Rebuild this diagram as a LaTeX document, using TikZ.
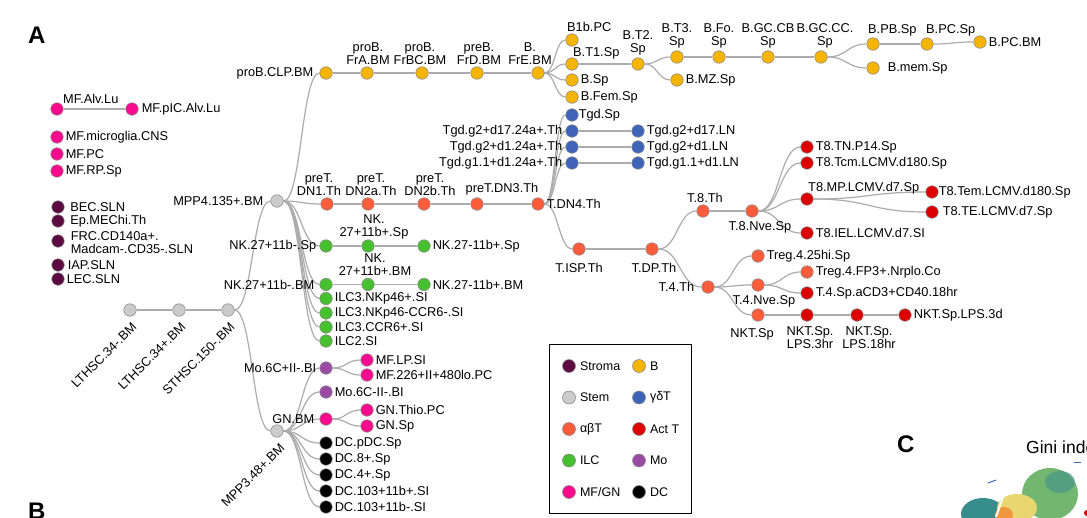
\documentclass[tikz,border=0pt]{standalone}
\usepackage{fontspec}
\setmainfont{Liberation Sans}
\usetikzlibrary{calc,backgrounds}
\definecolor{cStroma}{RGB}{92,10,64}
\definecolor{cB}{RGB}{245,180,0}
\definecolor{cStem}{RGB}{203,203,203}
\definecolor{cGD}{RGB}{62,100,186}
\definecolor{cAB}{RGB}{255,92,60}
\definecolor{cAct}{RGB}{220,0,0}
\definecolor{cILC}{RGB}{70,192,46}
\definecolor{cMo}{RGB}{155,74,164}
\definecolor{cMF}{RGB}{250,10,140}
\definecolor{cDC}{RGB}{0,0,0}
\definecolor{cEdge}{RGB}{172,172,172}
\definecolor{cRim}{RGB}{140,140,140}
\definecolor{sTeal}{RGB}{55,140,140}
\definecolor{sGreen}{RGB}{115,182,112}
\definecolor{sTeal2}{RGB}{70,150,135}
\definecolor{sYel}{RGB}{232,214,112}
\definecolor{sOr}{RGB}{240,150,60}
\newcommand\lbf{\fontsize{12.8}{13}\selectfont}
\newcommand\lgf{\fontsize{12.5}{13}\selectfont}
\newcommand\pnf{\fontsize{24}{24}\selectfont\bfseries}
\newcommand\lnkc[2]{\draw[edge] let \p1=(#1.center), \p2=(#2.center) in (#1) .. controls ({(\x1+\x2)/2},\y1) and ({(\x1+\x2)/2},\y2) .. (#2);}
\tikzset{
  nd/.style={circle, draw=cRim, line width=0.6pt, minimum size=12.5pt, inner sep=0pt, fill=#1},
  lb/.style={font=\lbf, inner sep=1pt, align=center},
  lg/.style={font=\lgf, inner sep=1pt},
  edge/.style={draw=cEdge, line width=1.2pt},
}
\begin{document}
\begin{tikzpicture}[x=1pt,y=-1pt,label distance=1pt]
\clip (0,0) rectangle (1087,517);
% ---------- left column ----------
\node[nd=cMF, label={[lb,anchor=south west,xshift=5pt,yshift=-3.5pt]north:MF.Alv.Lu}] (MFAlv) at (57,109) {};
\node[nd=cMF, label={[lb,xshift=1pt]right:MF.pIC.Alv.Lu}] (MFpIC) at (132,109) {};
\node[nd=cMF, label={[lb]right:MF.microglia.CNS}] (MFmic) at (57,137) {};
\node[nd=cMF, label={[lb]right:MF.PC}] (MFPC) at (57,154) {};
\node[nd=cMF, label={[lb]right:MF.RP.Sp}] (MFRP) at (57,171) {};
\node[nd=cStroma, label={[lb,xshift=3.5pt]right:BEC.SLN}] (BEC) at (58,207) {};
\node[nd=cStroma, label={[lb,xshift=3.5pt]right:Ep.MEChi.Th}] (EpME) at (58,221) {};
\node[nd=cStroma, label={[lb,align=left,xshift=4pt,yshift=-1.5pt]right:{FRC.CD140a+.\\Madcam-.CD35-.SLN}}] (FRC) at (58,241) {};
\node[nd=cStroma, label={[lb,xshift=1pt]right:IAP.SLN}] (IAP) at (58,265) {};
\node[nd=cStroma, label={[lb]right:LEC.SLN}] (LEC) at (58,279) {};
% ---------- stem ----------
\node[nd=cStem] (LTm) at (130,310) {};
\node[nd=cStem] (LTp) at (179,310) {};
\node[nd=cStem] (STH) at (228,310) {};
\node[lb,rotate=45,anchor=north east] (LTmL) at ([shift={(1,10)}]LTm.center) {LTHSC.34-.BM};
\node[lb,rotate=45,anchor=north east] (LTpL) at ([shift={(1,10)}]LTp.center) {LTHSC.34+.BM};
\node[lb,rotate=45,anchor=north east] (STHL) at ([shift={(1,10)}]STH.center) {STHSC.150-.BM};
\node[nd=cStem, label={[lb,xshift=-5pt]left:MPP4.135+.BM}] (MPP4) at (277,201) {};
\node[nd=cStem] (MPP3) at (277,431) {};
\node[lb,rotate=45,anchor=north east] (MPP3L) at ([shift={(2,10)}]MPP3.center) {MPP3.48+.BM};
% ---------- B lineage ----------
\node[nd=cB, label={[lb,xshift=-4pt]left:proB.CLP.BM}] (CLP) at (326,73) {};
\node[nd=cB, label={[lb,xshift=1pt]above:{proB.\\FrA.BM}}] (FrA) at (367,73) {};
\node[nd=cB, label={[lb,xshift=-2pt]above:{proB.\\FrBC.BM}}] (FrBC) at (422,73) {};
\node[nd=cB, label={[lb,xshift=2pt]above:{preB.\\FrD.BM}}] (FrD) at (477,73) {};
\node[nd=cB, label={[lb,xshift=-8pt]above:{B.\\FrE.BM}}] (FrE) at (538,73) {};
\node[nd=cB, label={[lb,anchor=south west,xshift=-6pt]north:B1b.PC}] (B1b) at (572,40) {};
\node[nd=cB, label={[lb,anchor=south west,yshift=-4pt]north:B.T1.Sp}] (BT1) at (572,64) {};
\node[nd=cB, label={[lb]right:B.Sp}] (BSp) at (572,80) {};
\node[nd=cB, label={[lb]right:B.Fem.Sp}] (BFem) at (572,97) {};
\node[nd=cB, label={[lb]above:{B.T2.\\Sp}}] (BT2) at (638,64) {};
\node[nd=cB, label={[lb]above:{B.T3.\\Sp}}] (BT3) at (677,57) {};
\node[nd=cB, label={[lb]right:B.MZ.Sp}] (BMZ) at (677,80) {};
\node[nd=cB, label={[lb]above:{B.Fo.\\Sp}}] (BFo) at (719,57) {};
\node[nd=cB, label={[lb]above:{B.GC.CB\\Sp}}] (BGCB) at (768,57) {};
\node[nd=cB, label={[lb,xshift=4pt]above:{B.GC.CC.\\Sp}}] (BGCC) at (821,57) {};
\node[nd=cB, label={[lb,anchor=south west,xshift=-6pt,yshift=-1pt]north:B.PB.Sp}] (BPB) at (873,44) {};
\node[nd=cB, label={[lb,anchor=south west,xshift=-2pt,yshift=-1pt]north:B.PC.Sp}] (BPCSp) at (927,44) {};
\node[nd=cB, label={[lb]right:B.PC.BM}] (BPCBM) at (980,42) {};
\node[nd=cB, label={[lb,xshift=6pt]right:B.mem.Sp}] (Bmem) at (873,68) {};
% ---------- gamma delta T ----------
\node[nd=cGD, label={[lb,xshift=-2pt]right:Tgd.Sp}] (TgdSp) at (572,115) {};
\node[nd=cGD, label={[lb,xshift=-1pt]left:Tgd.g2+d17.24a+.Th}] (Tg17) at (572,131) {};
\node[nd=cGD, label={[lb,xshift=-1pt]left:Tgd.g2+d1.24a+.Th}] (Tg1) at (572,147) {};
\node[nd=cGD, label={[lb,xshift=-1pt]left:Tgd.g1.1+d1.24a+.Th}] (Tg11) at (572,163) {};
\node[nd=cGD, label={[lb]right:Tgd.g2+d17.LN}] (Tg17LN) at (638,131) {};
\node[nd=cGD, label={[lb]right:Tgd.g2+d1.LN}] (Tg1LN) at (638,147) {};
\node[nd=cGD, label={[lb]right:Tgd.g1.1+d1.LN}] (Tg11LN) at (638,163) {};
% ---------- alpha beta T ----------
\node[nd=cAB, label={[lb,xshift=-8pt]above:{preT.\\DN1.Th}}] (DN1) at (327,204) {};
\node[nd=cAB, label={[lb,xshift=3pt]above:{preT.\\DN2a.Th}}] (DN2a) at (368,204) {};
\node[nd=cAB, label={[lb,xshift=6pt]above:{preT.\\DN2b.Th}}] (DN2b) at (424,204) {};
\node[nd=cAB, label={[lb,xshift=25pt]above:preT.DN3.Th}] (DN3) at (477,204) {};
\node[nd=cAB, label={[lb]right:T.DN4.Th}] (DN4) at (538,204) {};
\node[nd=cAB, label={[lb,yshift=-5pt]below:T.ISP.Th}] (ISP) at (579,249) {};
\node[nd=cAB, label={[lb,xshift=2pt,yshift=-5pt]below:T.DP.Th}] (DP) at (652,249) {};
\node[nd=cAB, label={[lb,xshift=2pt]above:T.8.Th}] (T8Th) at (703,211) {};
\node[nd=cAB, label={[lb,xshift=8pt,yshift=-1.5pt]below:T.8.Nve.Sp}] (T8Nve) at (752,211) {};
\node[nd=cAct, label={[lb]right:T8.TN.P14.Sp}] (T8TN) at (807,147) {};
\node[nd=cAct, label={[lb]right:T8.Tcm.LCMV.d180.Sp}] (T8Tcm) at (807,163) {};
\node[nd=cAct, label={[lb,anchor=south west,yshift=-4pt]north:T8.MP.LCMV.d7.Sp}] (T8MP) at (807,199) {};
\node[nd=cAct, label={[lb,xshift=-2pt]right:T8.Tem.LCMV.d180.Sp}] (T8Tem) at (932,192) {};
\node[nd=cAct, label={[lb,xshift=2pt]right:T8.TE.LCMV.d7.Sp}] (T8TE) at (932,212) {};
\node[nd=cAct, label={[lb]right:T8.IEL.LCMV.d7.SI}] (T8IEL) at (807,233) {};
\node[nd=cAB, label={[lb,xshift=-5pt]left:T.4.Th}] (T4Th) at (708,287) {};
\node[nd=cAB, label={[lb]right:Treg.4.25hi.Sp}] (Treg25) at (758,256) {};
\node[nd=cAB, label={[lb,xshift=6pt,yshift=-1.5pt]below:T.4.Nve.Sp}] (T4Nve) at (758,285) {};
\node[nd=cAB, label={[lb]right:Treg.4.FP3+.Nrplo.Co}] (TregFP) at (807,272) {};
\node[nd=cAct, label={[lb]right:T.4.Sp.aCD3+CD40.18hr}] (T4aCD) at (807,293) {};
\node[nd=cAB, label={[lb,xshift=-6pt,yshift=-4.5pt]below:NKT.Sp}] (NKTSp) at (758,315) {};
\node[nd=cAct, label={[lb,xshift=3pt,yshift=-3pt]below:{NKT.Sp.\\LPS.3hr}}] (NKT3h) at (807,315) {};
\node[nd=cAct, label={[lb,xshift=12pt,yshift=-3pt]below:{NKT.Sp.\\LPS.18hr}}] (NKT18h) at (857,315) {};
\node[nd=cAct, label={[lb]right:NKT.Sp.LPS.3d}] (NKT3d) at (905,315) {};
% ---------- NK / ILC ----------
\node[nd=cILC, label={[lb,xshift=-1pt]left:NK.27+11b-.Sp}] (NKSp) at (326,246) {};
\node[nd=cILC, label={[lb,xshift=6pt,yshift=-2pt]above:{NK.\\27+11b+.Sp}}] (NKpSp) at (368,246) {};
\node[nd=cILC, label={[lb]right:NK.27-11b+.Sp}] (NKmSp) at (424,246) {};
\node[nd=cILC, label={[lb,xshift=-3pt]left:NK.27+11b-.BM}] (NKBM) at (326,284.5) {};
\node[nd=cILC, label={[lb,xshift=7pt]above:{NK.\\27+11b+.BM}}] (NKpBM) at (368,284.5) {};
\node[nd=cILC, label={[lb]right:NK.27-11b+.BM}] (NKmBM) at (424,284.5) {};
\node[nd=cILC, label={[lb]right:ILC3.NKp46+.SI}] (ILCa) at (326,298.5) {};
\node[nd=cILC, label={[lb]right:ILC3.NKp46-CCR6-.SI}] (ILCb) at (326,313) {};
\node[nd=cILC, label={[lb]right:ILC3.CCR6+.SI}] (ILCc) at (326,327) {};
\node[nd=cILC, label={[lb]right:ILC2.SI}] (ILC2) at (326,341) {};
% ---------- myeloid ----------
\node[nd=cMo, label={[lb,xshift=-1pt]left:Mo.6C+II-.BI}] (Mop) at (326,368) {};
\node[nd=cMF, label={[lb]right:MF.LP.SI}] (MFLP) at (367,360) {};
\node[nd=cMF, label={[lb]right:MF.226+II+480lo.PC}] (MF226) at (367,375) {};
\node[nd=cMo, label={[lb]right:Mo.6C-II-.BI}] (Mom) at (326,392) {};
\node[nd=cMF, label={[lb,xshift=-3pt]left:GN.BM}] (GNBM) at (326,419) {};
\node[nd=cMF, label={[lb]right:GN.Thio.PC}] (GNTh) at (367,410) {};
\node[nd=cMF, label={[lb]right:GN.Sp}] (GNSp) at (367,426) {};
\node[nd=cDC, label={[lb]right:DC.pDC.Sp}] (DCp) at (326,443) {};
\node[nd=cDC, label={[lb]right:DC.8+.Sp}] (DC8) at (326,459) {};
\node[nd=cDC, label={[lb]right:DC.4+.Sp}] (DC4) at (326,475) {};
\node[nd=cDC, label={[lb]right:DC.103+11b+.SI}] (DCa) at (326,491) {};
\node[nd=cDC, label={[lb]right:DC.103+11b-.SI}] (DCb) at (326,507) {};
% ---------- edges ----------
\begin{pgfonlayer}{background}
\fill[white] (0,0) rectangle (1087,517);
\foreach \a/\b in {MFAlv/MFpIC, LTm/LTp, LTp/STH, STH/MPP4, STH/MPP3,
  MPP4/CLP, CLP/FrA, FrA/FrBC, FrBC/FrD, FrD/FrE, FrE/B1b, FrE/BT1, FrE/BSp, FrE/BFem,
  BT1/BT2, BT2/BT3, BT2/BMZ, BT3/BFo, BFo/BGCB, BGCB/BGCC, BGCC/BPB, BGCC/Bmem, BPB/BPCSp, BPCSp/BPCBM,
  MPP4/DN1, DN1/DN2a, DN2a/DN2b, DN2b/DN3, DN3/DN4,
  DN4/TgdSp, DN4/Tg17, DN4/Tg1, DN4/Tg11, Tg17/Tg17LN, Tg1/Tg1LN, Tg11/Tg11LN,
  DN4/ISP, ISP/DP, DP/T8Th, DP/T4Th, T8Th/T8Nve, T8Nve/T8TN, T8Nve/T8Tcm, T8Nve/T8MP, T8Nve/T8IEL,
  T8MP/T8Tem, T8MP/T8TE, T4Th/Treg25, T4Th/T4Nve, T4Th/NKTSp, T4Nve/TregFP, T4Nve/T4aCD,
  NKTSp/NKT3h, NKT3h/NKT18h, NKT18h/NKT3d,
  MPP4/NKSp, MPP4/NKBM, MPP4/ILCa, MPP4/ILCb, MPP4/ILCc, MPP4/ILC2,
  NKSp/NKpSp, NKpSp/NKmSp, NKBM/NKpBM, NKpBM/NKmBM,
  MPP3/Mop, MPP3/Mom, MPP3/GNBM, MPP3/DCp, MPP3/DC8, MPP3/DC4, MPP3/DCa, MPP3/DCb,
  Mop/MFLP, Mop/MF226, GNBM/GNTh, GNBM/GNSp}
  {\lnkc{\a}{\b}}
\end{pgfonlayer}
% ---------- legend ----------
\node[draw=black, line width=0.8pt, minimum width=142pt, minimum height=169pt, inner sep=0pt] (legend) at (620,428.5) {};
\tikzset{lgd/.style={nd=#1, minimum size=13pt}}
\node[lgd=cStroma, label={[lg,label distance=3pt]right:Stroma}] (lg1) at (569,366) {};
\node[lgd=cB, label={[lg,label distance=3pt]right:B}] (lg2) at (639,366) {};
\node[lgd=cStem, label={[lg,label distance=3pt]right:Stem}] (lg3) at (569,397.5) {};
\node[lgd=cGD, label={[lg,label distance=3pt]right:γδT}] (lg4) at (639,397.5) {};
\node[lgd=cAB, label={[lg,label distance=3pt]right:αβT}] (lg5) at (569,429) {};
\node[lgd=cAct, label={[lg,label distance=3pt]right:Act T}] (lg6) at (639,429) {};
\node[lgd=cILC, label={[lg,label distance=3pt]right:ILC}] (lg7) at (569,460.5) {};
\node[lgd=cMo, label={[lg,label distance=3pt]right:Mo}] (lg8) at (639,460.5) {};
\node[lgd=cMF, label={[lg,label distance=3pt]right:MF/GN}] (lg9) at (569,492) {};
\node[lgd=cDC, label={[lg,label distance=3pt]right:DC}] (lg10) at (639,492) {};
% ---------- panel letters ----------
\node[font=\pnf, inner sep=0pt, anchor=base west] (pA) at (28,43) {A};
\node[font=\pnf, inner sep=0pt, anchor=base west] (pB) at (28,519) {B};
\node[font=\pnf, inner sep=0pt, anchor=base west] (pC) at (897,452) {C};
\node[font=\fontsize{17.5}{18}\selectfont, inner sep=0pt, anchor=base west] (gini) at (1026,453) {Gini index};
% ---------- scatter fragment (panel C) ----------
\fill[sTeal] (983,514) ellipse [x radius=22, y radius=16];
\fill[sGreen] (1050,494) ellipse [x radius=28, y radius=26];
\fill[sTeal2, opacity=0.7] (1060,482) ellipse [x radius=15, y radius=11];
\fill[sYel] (1017,508) ellipse [x radius=20, y radius=14];
\fill[sOr] (1004,515) ellipse [x radius=9, y radius=8];
\draw[white, line width=2pt] (996,517) -- (1004,494);
\draw[cGD, line width=1pt] (988,483) -- (996,480);
\draw[cGD, line width=1pt] (1074,462) -- (1081,462);
\fill[cAct] (1087,513) circle (3);
\end{tikzpicture}
\end{document}
